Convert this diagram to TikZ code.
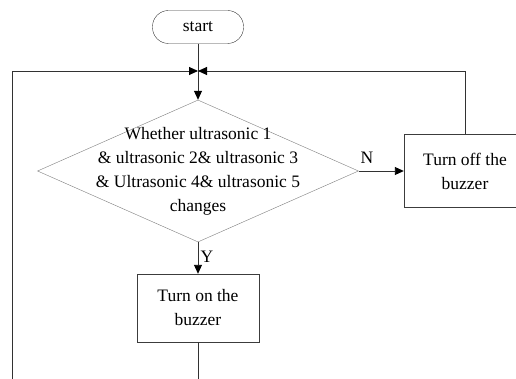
\documentclass[tikz,border=0pt]{standalone}
\usepackage{fontspec}
\setmainfont{Liberation Serif}
\usetikzlibrary{arrows.meta,shapes.geometric}
\definecolor{edgegray}{RGB}{125,125,125}
\definecolor{boxgray}{RGB}{60,60,60}
\definecolor{wiregray}{RGB}{50,50,50}

\begin{document}
\begin{tikzpicture}[x=1pt,y=-1pt,
  term/.style={draw=boxgray,rounded corners=16pt,minimum width=91pt,
               minimum height=33pt,inner sep=0pt,
               font=\fontsize{17.5}{24}\selectfont},
  proc/.style={draw=boxgray,minimum width=122pt,minimum height=70pt,
               inner sep=0pt,align=center,
               font=\fontsize{17.5}{24}\selectfont},
  decide/.style={diamond,draw=edgegray,minimum width=321pt,
                 minimum height=142pt,inner sep=0pt},
  txt/.style={align=center,inner sep=0pt,
              font=\fontsize{17.5}{24}\selectfont},
  wire/.style={draw=wiregray,line width=0.9pt},
  flow/.style={wire,-{Triangle[length=9pt,width=8pt,color=black]}}]
  \clip (0,0) rectangle (516,379);
  \node[term](start) at (198,27)  {start};
  \coordinate (junc) at (198,71);
  \node[decide](cond) at (198,171) {};
  \node[txt](condtxt) at (cond.center)
    {Whether ultrasonic 1\\ \& ultrasonic 2\& ultrasonic 3\\
     \& Ultrasonic 4\& ultrasonic 5\\changes};
  \node[proc,minimum height=73pt](off) at (465,171) {Turn off the\\buzzer};
  \node[proc,minimum height=68pt](on)  at (198,308) {Turn on the\\buzzer};
  \coordinate (lowL) at (12,400);

  \draw[wire](start) -- (junc);
  \draw[flow](junc) -- (cond.north);
  \draw[flow](cond.east) -- (off.west);
  \draw[flow](cond.south) -- (on.north);
  \draw[flow](off.north) |- (junc);
  \draw[flow](on.south) |- (lowL) |- (junc);

  \node[txt](nlab) at (367,158) {N};
  \node[txt](ylab) at (207,257) {Y};
\end{tikzpicture}
\end{document}
